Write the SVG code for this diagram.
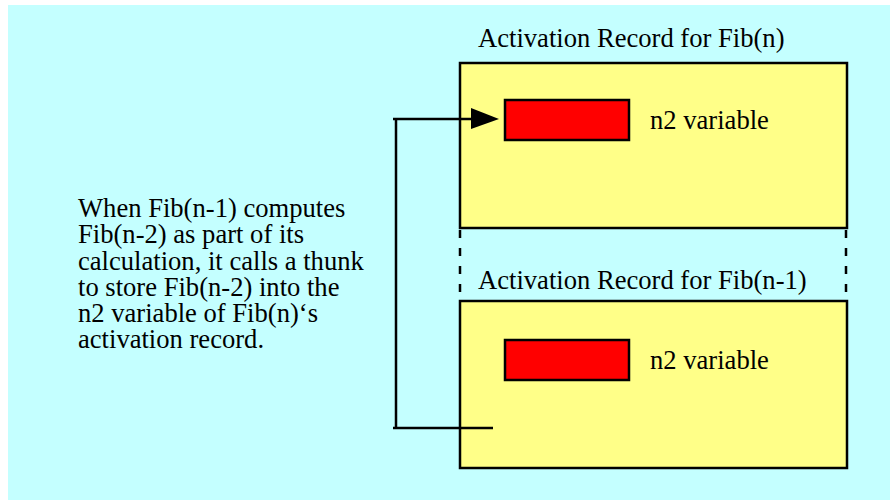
<svg xmlns="http://www.w3.org/2000/svg" width="890" height="500" viewBox="0 0 890 500">
<style>
.t{font-family:"Liberation Serif","Times New Roman",serif;font-size:26.6px;fill:#000}
.rec{fill:#ffff88;stroke:#000;stroke-width:2.5}
.var{fill:#ff0000;stroke:#000;stroke-width:2.5}
.ln{fill:none;stroke:#000;stroke-width:2.5}
.dash{fill:none;stroke:#000;stroke-width:2.5;stroke-dasharray:8,10}
</style>
<rect x="8" y="5" width="882" height="495" fill="#c4ffff"/>
<g id="fibn">
<text class="t" x="478" y="47">Activation Record for Fib(n)</text>
<rect class="rec" x="460" y="63" width="387" height="165"/>
<g id="n2var1">
<rect class="var" x="505" y="100" width="124" height="40"/>
<text class="t" x="650" y="129">n2 variable</text>
</g>
</g>
<g id="fibn1">
<text class="t" x="478" y="289">Activation Record for Fib(n-1)</text>
<rect class="rec" x="460" y="301" width="387" height="167"/>
<g id="n2var2">
<rect class="var" x="505" y="340" width="124" height="40"/>
<text class="t" x="650" y="369">n2 variable</text>
</g>
</g>
<g id="caption">
<text class="t" x="78" y="217">When Fib(n-1) computes</text>
<text class="t" x="78" y="243">Fib(n-2) as part of its</text>
<text class="t" x="78" y="270">calculation, it calls a thunk</text>
<text class="t" x="78" y="296">to store Fib(n-2) into the</text>
<text class="t" x="78" y="322">n2 variable of Fib(n)‘s</text>
<text class="t" x="78" y="348">activation record.</text>
</g>
<g id="connectors">
<path class="dash" d="M460 230 V300"/>
<path class="dash" d="M846 230 V300"/>
<path class="ln" d="M493 428 H393 M396 428 V119 M393 119 H475"/>
<polygon points="471,108 499,119 471,129" fill="#000"/>
</g>
</svg>
